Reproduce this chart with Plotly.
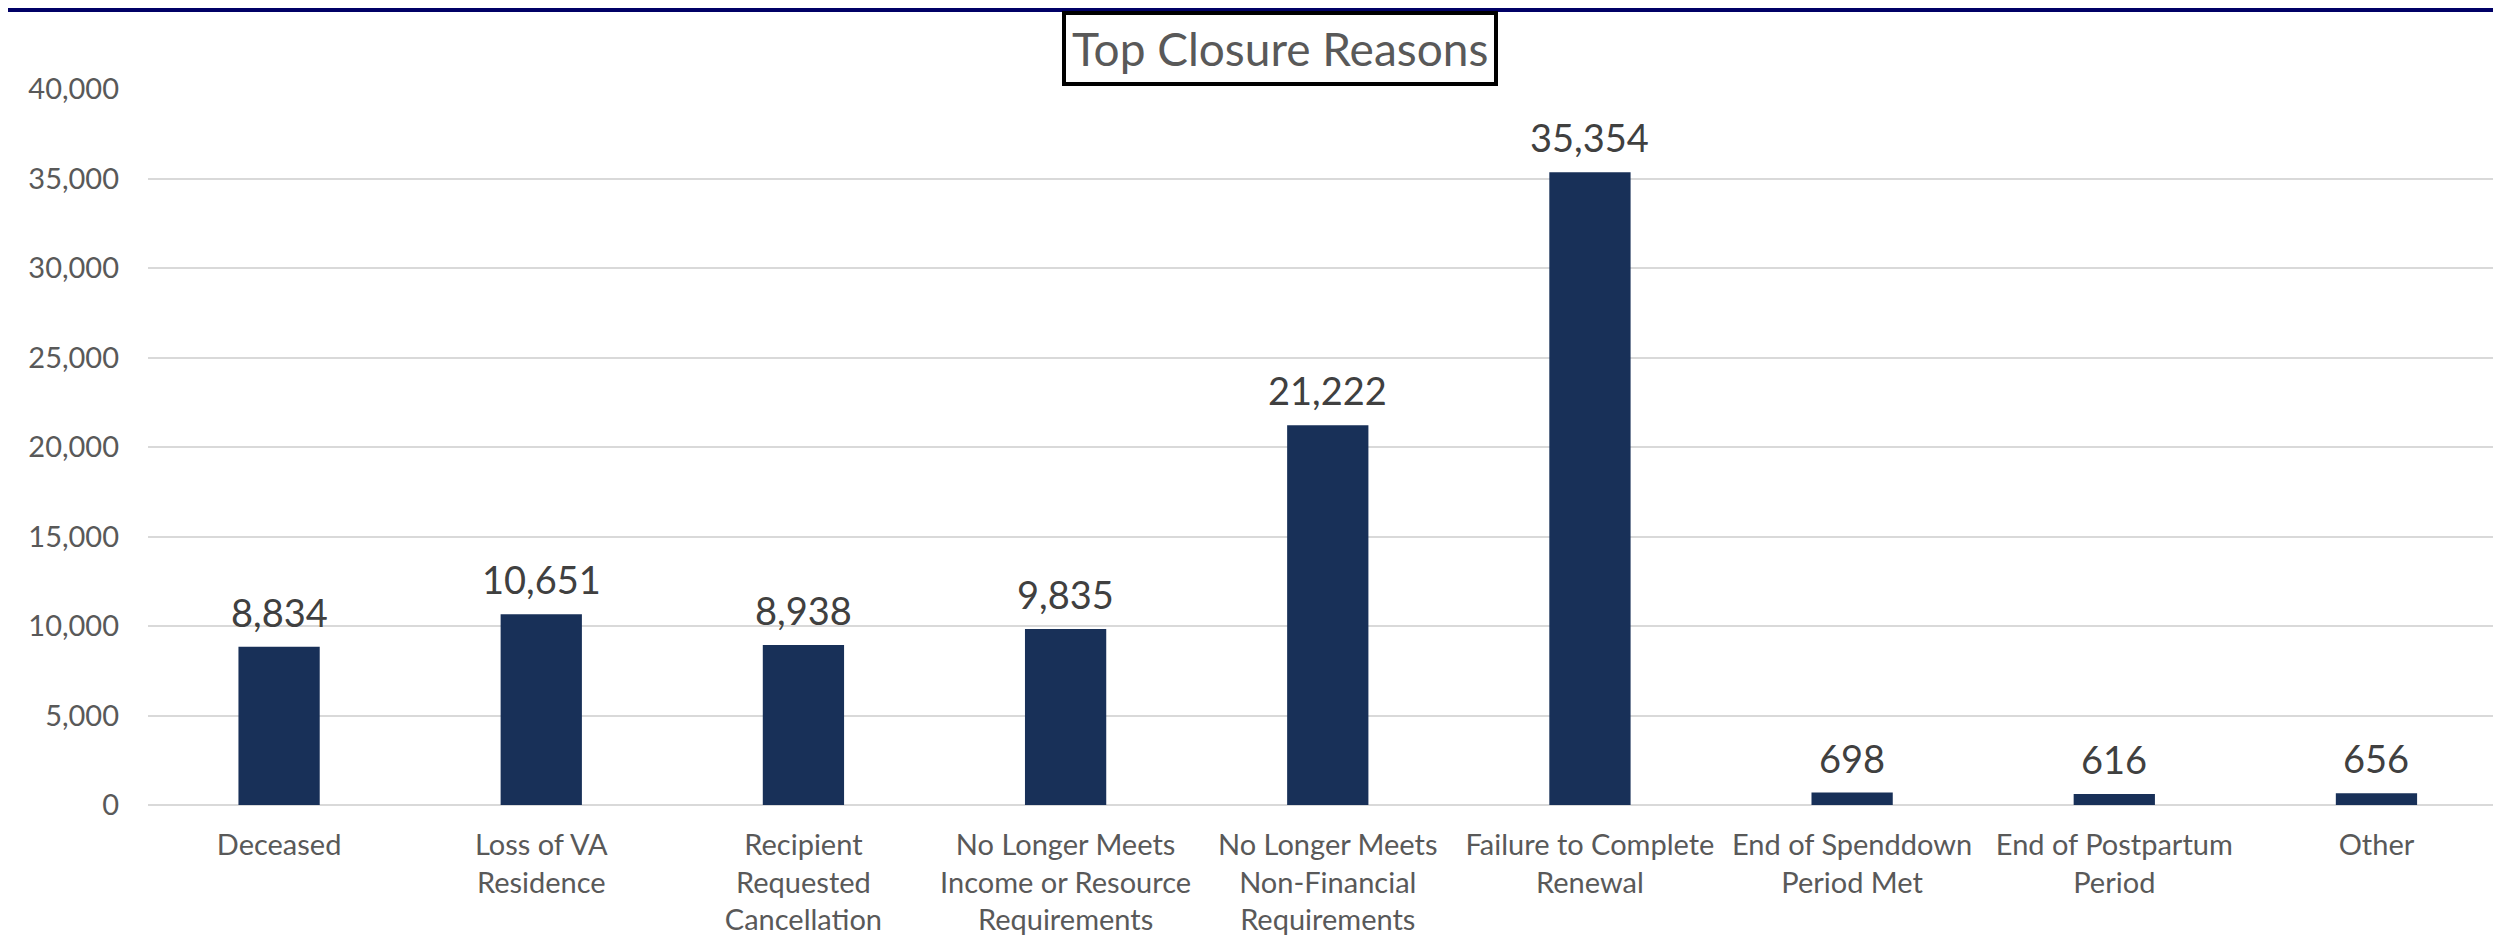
import plotly.graph_objects as go

categories = [
    "Deceased",
    "Loss of VA<br>Residence",
    "Recipient<br>Requested<br>Cancellation",
    "No Longer Meets<br>Income or Resource<br>Requirements",
    "No Longer Meets<br>Non-Financial<br>Requirements",
    "Failure to Complete<br>Renewal",
    "End of Spenddown<br>Period Met",
    "End of Postpartum<br>Period",
    "Other",
]
values = [8834, 10651, 8938, 9835, 21222, 35354, 698, 616, 656]
y_ticks = [0, 5000, 10000, 15000, 20000, 25000, 30000, 35000, 40000]
title_text = "Top Closure Reasons"

FONT = "Lato"
BAR_COLOR = "#183058"
GRID = "#D9D9D9"

W, H = 2493, 931
ML, MT, MB = 140, 81, 134
PW = W - ML
PH = H - MT - MB

fig = go.Figure()
fig.add_trace(go.Bar(
    x=categories,
    y=values,
    marker=dict(color=BAR_COLOR, line=dict(width=0)),
    hoverinfo="x+y",
))

for c, v in zip(categories, values):
    fig.add_annotation(
        x=c, y=v, xref="x", yref="y",
        text=f"{v:,}",
        showarrow=False,
        yanchor="bottom",
        yshift=10,
        font=dict(family=FONT, size=38, color="#404040"),
    )

fig.add_annotation(
    xref="paper", yref="paper",
    x=(1272 - ML) / PW, y=1 + (MT - 41) / PH,
    xanchor="center", yanchor="middle",
    text=title_text,
    showarrow=False,
    font=dict(family=FONT, size=46, color="#595959"),
    bordercolor="#000000",
    borderwidth=4,
    borderpad=6,
    bgcolor="#FFFFFF",
)

# top navy rule
fig.add_shape(
    type="rect", xref="paper", yref="paper",
    x0=-ML / PW, x1=1.0,
    y0=1 + (MT - 4) / PH, y1=1 + MT / PH,
    fillcolor="#000066", line=dict(width=0), layer="above",
)

fig.update_layout(
    width=W, height=H,
    margin=dict(l=ML, r=0, t=MT, b=MB, pad=0),
    paper_bgcolor="#FFFFFF",
    plot_bgcolor="#FFFFFF",
    bargap=0.69,
    showlegend=False,
    font=dict(family=FONT, color="#595959"),
)
fig.update_xaxes(
    range=[-0.5, 8.475],
    showgrid=False,
    showline=False,
    zeroline=False,
    tickfont=dict(family=FONT, size=29, color="#595959"),
    ticks="",
    ticklabelstandoff=20,
)
fig.update_yaxes(
    range=[0, 40000],
    tickvals=y_ticks,
    ticktext=[f"{t:,}" for t in y_ticks],
    showgrid=True,
    gridcolor=GRID,
    gridwidth=2,
    zeroline=True,
    zerolinecolor=GRID,
    zerolinewidth=2,
    showline=False,
    tickfont=dict(family=FONT, size=29, color="#595959"),
    ticks="",
    ticklabelstandoff=28,
)

fig.write_html("out.html")
